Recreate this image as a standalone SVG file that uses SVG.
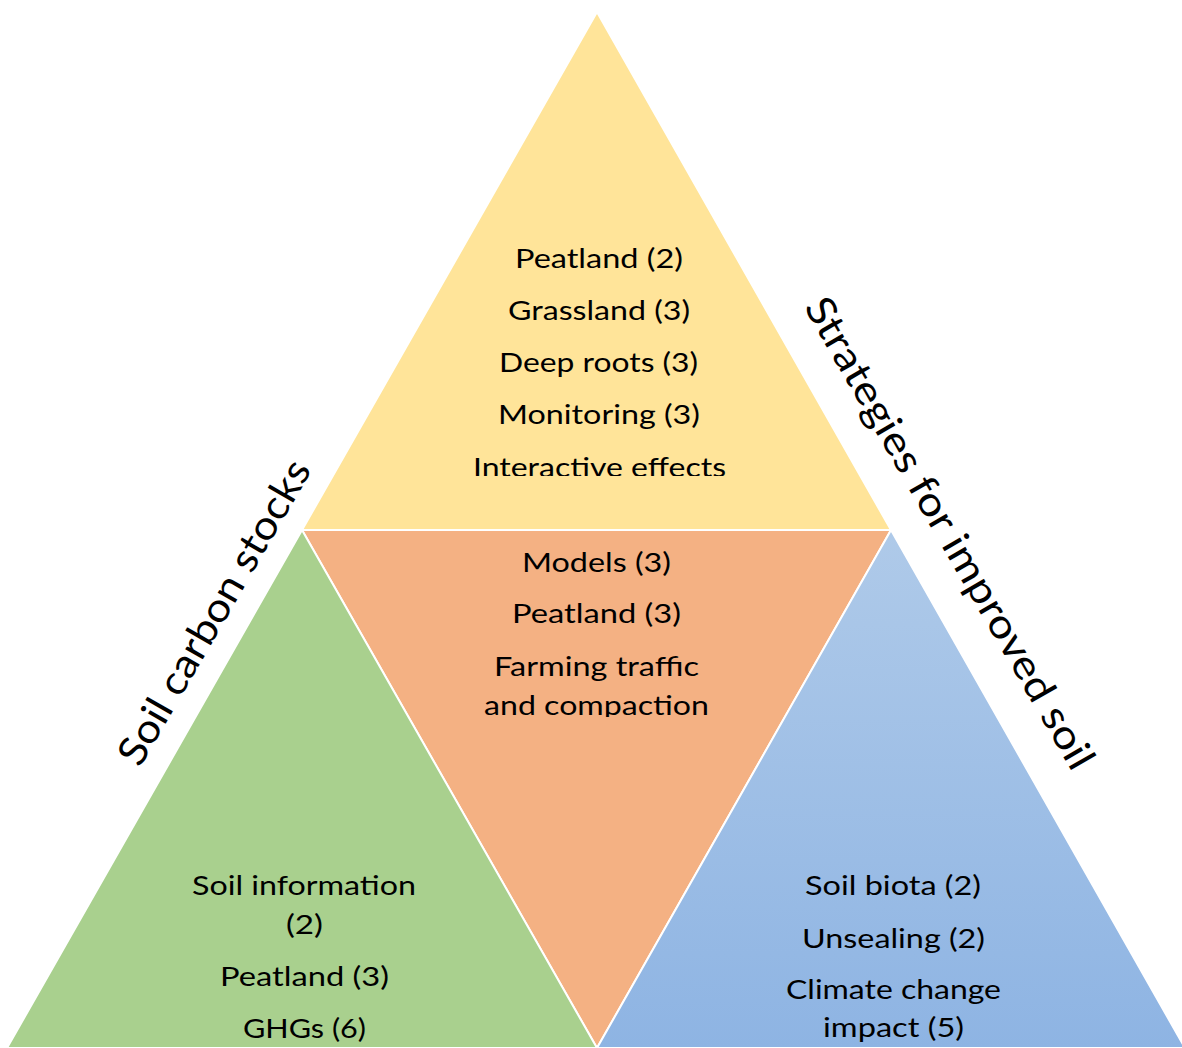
<svg xmlns="http://www.w3.org/2000/svg" width="1182" height="1048" viewBox="0 0 1182 1048">
<style>
.tri{stroke:#ffffff;stroke-width:2;stroke-linejoin:miter}
.t{font-family:Lato,"Liberation Sans",sans-serif;font-size:26.5px;fill:#000;text-anchor:middle}
.r{font-family:Lato,"Liberation Sans",sans-serif;font-size:40px;fill:#000;text-anchor:middle}
</style>
<defs>
<linearGradient id="blueGrad" gradientUnits="userSpaceOnUse" x1="0" y1="530" x2="0" y2="1048">
<stop offset="0" stop-color="#AFCAE9"/>
<stop offset="1" stop-color="#8EB4E3"/>
</linearGradient>
<clipPath id="clipTop"><rect x="300" y="0" width="600" height="476"/></clipPath>
<clipPath id="clipMid"><rect x="300" y="530" width="600" height="187"/></clipPath>
</defs>
<rect width="1182" height="1048" fill="#ffffff"/>
<g id="top">
<polygon class="tri" points="597,12 891,530 302,530" fill="#FFE499"/>
<g clip-path="url(#clipTop)">
<text class="t" x="599" y="268" textLength="168" lengthAdjust="spacingAndGlyphs">Peatland (2)</text>
<text class="t" x="599" y="320" textLength="182" lengthAdjust="spacingAndGlyphs">Grassland (3)</text>
<text class="t" x="598.5" y="372" textLength="199" lengthAdjust="spacingAndGlyphs">Deep roots (3)</text>
<text class="t" x="599" y="424" textLength="202" lengthAdjust="spacingAndGlyphs">Monitoring (3)</text>
<text class="t" x="599.5" y="477" textLength="253" lengthAdjust="spacingAndGlyphs">Interactive effects</text>
</g>
</g>
<g id="middle">
<polygon class="tri" points="302,530 891,530 597,1048" fill="#F4B183"/>
<g clip-path="url(#clipMid)">
<text class="t" x="596.5" y="572" textLength="149" lengthAdjust="spacingAndGlyphs">Models (3)</text>
<text class="t" x="596.5" y="623" textLength="169" lengthAdjust="spacingAndGlyphs">Peatland (3)</text>
<text class="t" x="596.5" y="676" textLength="205" lengthAdjust="spacingAndGlyphs">Farming traffic</text>
<text class="t" x="596.5" y="715" textLength="225" lengthAdjust="spacingAndGlyphs">and compaction</text>
</g>
</g>
<g id="left">
<polygon class="tri" points="302,530 597,1048 7,1048" fill="#A9D08E"/>
<text class="t" x="304" y="895" textLength="224" lengthAdjust="spacingAndGlyphs">Soil information</text>
<text class="t" x="304.5" y="934" textLength="37" lengthAdjust="spacingAndGlyphs">(2)</text>
<text class="t" x="304.5" y="986" textLength="169" lengthAdjust="spacingAndGlyphs">Peatland (3)</text>
<text class="t" x="304.5" y="1038" textLength="123" lengthAdjust="spacingAndGlyphs">GHGs (6)</text>
</g>
<g id="right">
<polygon class="tri" points="891,530 1185,1048 597,1048" fill="url(#blueGrad)"/>
<text class="t" x="893" y="895" textLength="176" lengthAdjust="spacingAndGlyphs">Soil biota (2)</text>
<text class="t" x="893.5" y="948" textLength="183" lengthAdjust="spacingAndGlyphs">Unsealing (2)</text>
<text class="t" x="893.5" y="999" textLength="215" lengthAdjust="spacingAndGlyphs">Climate change</text>
<text class="t" x="893.5" y="1037" textLength="141" lengthAdjust="spacingAndGlyphs">impact (5)</text>
</g>
<g id="labels">
<text class="r" transform="translate(226,619) rotate(-60)" x="0" y="0" textLength="345" lengthAdjust="spacingAndGlyphs">Soil carbon stocks</text>
<text class="r" transform="translate(938,540) rotate(60)" x="0" y="0" textLength="538" lengthAdjust="spacingAndGlyphs">Strategies for improved soil</text>
</g>
<g id="connectors"></g>
</svg>
